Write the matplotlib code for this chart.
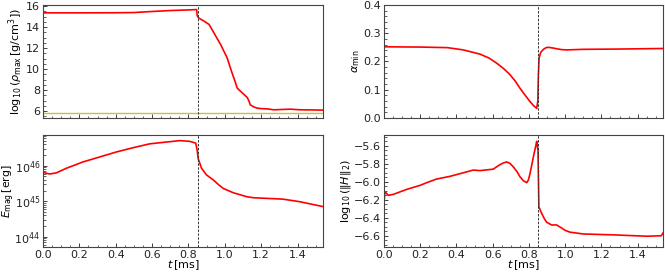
import numpy as np
import matplotlib
matplotlib.use("Agg")
import matplotlib.pyplot as plt
from matplotlib.ticker import AutoMinorLocator, MultipleLocator

plt.rcParams['mathtext.fontset'] = 'dejavusans'
plt.rcParams['font.family'] = ['DejaVu Sans']

t_merge = 0.85
rho_floor = 5.8

t_rho = [0.0, 0.2, 0.4, 0.5, 0.6, 0.7, 0.8, 0.845, 0.848, 0.855, 0.87, 0.885, 0.9, 0.913,
         0.925, 0.94, 0.958, 0.977, 0.995, 1.013, 1.027, 1.04, 1.055, 1.068, 1.087, 1.105,
         1.123, 1.132, 1.14, 1.16, 1.177, 1.2, 1.232, 1.268, 1.3, 1.36, 1.415, 1.47, 1.54]
rho = [15.35, 15.35, 15.36, 15.38, 15.48, 15.57, 15.63, 15.66, 15.1, 14.88, 14.72, 14.57,
       14.4, 14.25, 13.9, 13.45, 12.9, 12.34, 11.7, 11.06, 10.3, 9.63, 8.9, 8.2, 7.88, 7.6,
       7.3, 7.0, 6.6, 6.4, 6.29, 6.24, 6.22, 6.13, 6.15, 6.19, 6.13, 6.12, 6.1]

t_alpha = [0.0, 0.2, 0.35, 0.438, 0.53, 0.58, 0.622, 0.66, 0.696, 0.725, 0.751, 0.78, 0.806,
           0.825, 0.843, 0.849, 0.852, 0.856, 0.865, 0.88, 0.895, 0.908, 0.93, 0.954, 0.98,
           1.01, 1.1, 1.3, 1.54]
alpha = [0.252, 0.251, 0.249, 0.241, 0.226, 0.212, 0.194, 0.175, 0.153, 0.13, 0.105, 0.08,
         0.058, 0.044, 0.034, 0.06, 0.15, 0.212, 0.232, 0.243, 0.249, 0.250, 0.248, 0.245,
         0.242, 0.241, 0.243, 0.244, 0.246]

t_emag = [0.0, 0.037, 0.073, 0.128, 0.22, 0.312, 0.403, 0.495, 0.587, 0.678, 0.752, 0.807,
          0.84, 0.848, 0.853, 0.872, 0.9, 0.937, 0.965, 0.992, 1.047, 1.12, 1.157, 1.32,
          1.41, 1.54]
log_emag = [45.81, 45.77, 45.80, 45.93, 46.11, 46.25, 46.39, 46.51, 46.62, 46.67, 46.71,
            46.69, 46.64, 46.44, 46.21, 45.93, 45.74, 45.60, 45.47, 45.36, 45.24, 45.13,
            45.10, 45.06, 44.99, 44.85]

t_H = [0.0, 0.005, 0.024, 0.052, 0.125, 0.199, 0.236, 0.29, 0.364, 0.438, 0.493, 0.53,
       0.603, 0.625, 0.64, 0.66, 0.677, 0.695, 0.714, 0.735, 0.751, 0.77, 0.788, 0.797,
       0.806, 0.817, 0.828, 0.838, 0.843, 0.85, 0.855, 0.87, 0.885, 0.898, 0.925, 0.953,
       0.981, 1.0, 1.027, 1.1, 1.265, 1.45, 1.53, 1.54]
log_H = [-6.24, -6.11, -6.15, -6.14, -6.085, -6.04, -6.01, -5.97, -5.94, -5.90, -5.87,
         -5.876, -5.86, -5.83, -5.81, -5.79, -5.78, -5.795, -5.835, -5.89, -5.945, -5.99,
         -6.01, -5.98, -5.91, -5.80, -5.69, -5.6, -5.55, -5.65, -6.28, -6.35, -6.41, -6.45,
         -6.48, -6.48, -6.515, -6.54, -6.56, -6.58, -6.59, -6.605, -6.60, -6.57]

fig = plt.figure(figsize=(6.65, 2.76), dpi=100)
L1, W1 = 0.0647, 0.421
L2, W2 = 0.5774, 0.4196
B_top, H_top = 0.5725, 0.4095
B_bot, H_bot = 0.105, 0.406
ax1 = fig.add_axes([L1, B_top, W1, H_top])
ax2 = fig.add_axes([L2, B_top, W2, H_top])
ax3 = fig.add_axes([L1, B_bot, W1, H_bot])
ax4 = fig.add_axes([L2, B_bot, W2, H_bot])

red = '#ff0000'
lw = 1.2
fs = 8.0

ax1.plot(t_rho, rho, color=red, lw=lw)
ax1.axhline(rho_floor, color='#c8c23a', lw=1.0)
ax1.set_ylim(5.35, 16.1)
ax1.yaxis.set_major_locator(MultipleLocator(2))
ax1.set_ylabel(r'$\log_{10}(\rho_{\rm max}\,[{\rm g/cm^3}])$', fontsize=fs)

ax2.plot(t_alpha, alpha, color=red, lw=lw)
ax2.set_ylim(0.0, 0.4)
ax2.yaxis.set_major_locator(MultipleLocator(0.1))
ax2.set_ylabel(r'$\alpha_{\rm min}$', fontsize=fs)

ax3.plot(t_emag, 10.0 ** np.array(log_emag), color=red, lw=lw)
ax3.set_yscale('log')
ax3.set_ylim(10 ** 43.71, 10 ** 46.87)
ax3.set_ylabel(r'$E_{\rm mag}\,[{\rm erg}]$', fontsize=7.8)

ax4.plot(t_H, log_H, color=red, lw=lw)
ax4.set_ylim(-6.725, -5.48)
ax4.yaxis.set_major_locator(MultipleLocator(0.2))
ax4.set_ylabel(r'$\log_{10}(\|H\|_2)$', fontsize=fs)

for ax in (ax1, ax2, ax3, ax4):
    ax.set_xlim(0, 1.54)
    ax.axvline(t_merge, color='#333333', lw=0.7, ls=(0, (2.5, 1.5)))
    ax.xaxis.set_major_locator(MultipleLocator(0.2))
    ax.xaxis.set_minor_locator(MultipleLocator(0.05))
    if ax is not ax3:
        ax.yaxis.set_minor_locator(AutoMinorLocator())
    ax.tick_params(which='both', direction='in', labelsize=fs, colors='#222222', pad=2)
    ax.tick_params(which='major', length=3, width=0.6)
    ax.tick_params(which='minor', length=1.8, width=0.5)
    for s in ax.spines.values():
        s.set_color('#444444')
        s.set_linewidth(0.8)
    ax.yaxis.labelpad = 1

ax3.yaxis.set_label_coords(-0.092, 0.5)

for ax in (ax1, ax2):
    ax.tick_params(labelbottom=False)
for ax in (ax3, ax4):
    ax.set_xlabel(r'$t\,[{\rm ms}]$', fontsize=fs, labelpad=-1)

fig.savefig('out.png', dpi=100)
